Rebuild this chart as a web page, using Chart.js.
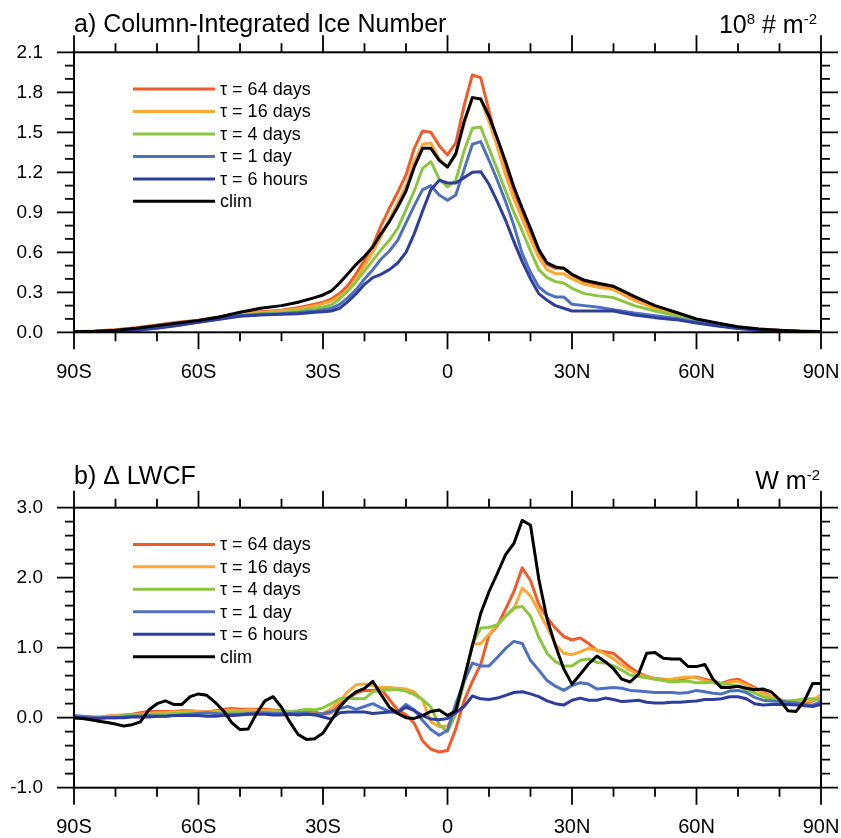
<!DOCTYPE html>
<html><head><meta charset="utf-8">
<script src="https://cdn.jsdelivr.net/npm/chart.js@4.4.1/dist/chart.umd.min.js"></script>
<style>html,body{margin:0;padding:0;background:#fff;}#wrap{position:relative;width:841px;height:838px;}canvas{position:absolute;left:0;}</style>
</head><body><div id="wrap"><canvas id="ca" width="841" height="420" style="top:0"></canvas><canvas id="cb" width="841" height="418" style="top:420px"></canvas></div>
<script>
// ---------- data ----------
const seriesLabels = ['\u03C4 = 64 days','\u03C4 = 16 days','\u03C4 = 4 days','\u03C4 = 1 day','\u03C4 = 6 hours','clim'];
const seriesColors = ['#F15A29','#FBA834','#8CC63F','#4F70BE','#2F3E9E','#000000'];

const xTicks = [-90,-60,-30,0,30,60,90];
const xTickLabels = ['90S','60S','30S','0','30N','60N','90N'];
const xMinor = [-80,-70,-50,-40,-20,-10,10,20,40,50,70,80];

const yTicksA = [0,0.3,0.6,0.9,1.2,1.5,1.8,2.1];
const yTickLabelsA = ['0.0','0.3','0.6','0.9','1.2','1.5','1.8','2.1'];
const yMinorA = [0.1,0.2,0.4,0.5,0.7,0.8,1.0,1.1,1.3,1.4,1.6,1.7,1.9,2.0];

const yTicksB = [-1,0,1,2,3];
const yTickLabelsB = ['-1.0','0.0','1.0','2.0','3.0'];
const yMinorB = [-0.8,-0.6,-0.4,-0.2,0.2,0.4,0.6,0.8,1.2,1.4,1.6,1.8,2.2,2.4,2.6,2.8];

// panel a: column-integrated ice number (10^8 # m^-2)
const latA = [-90,-85,-80,-75,-70,-65,-60,-55,-50,-45,-40,-36,-32,-30,-28,-26,-24,-22,-20,-18,-16,-14,-12,-10,-8,-6,-4,-2,0,2,4,6,8,10,12,14,16,18,20,22,24,26,28,30,33,36,40,45,50,55,60,65,70,75,80,85,90];
const a64 = [0.005,0.01,0.02,0.035,0.055,0.075,0.09,0.115,0.143,0.155,0.165,0.185,0.21,0.225,0.25,0.29,0.35,0.44,0.54,0.65,0.80,0.93,1.05,1.18,1.38,1.51,1.50,1.40,1.33,1.42,1.70,1.93,1.91,1.66,1.42,1.24,1.06,0.90,0.75,0.60,0.51,0.48,0.48,0.43,0.38,0.36,0.33,0.25,0.19,0.145,0.095,0.065,0.04,0.025,0.015,0.01,0.006];
const a16 = [0.005,0.008,0.018,0.032,0.05,0.07,0.088,0.11,0.138,0.148,0.16,0.175,0.2,0.215,0.235,0.27,0.32,0.40,0.50,0.60,0.72,0.85,0.97,1.10,1.28,1.41,1.42,1.30,1.24,1.33,1.56,1.76,1.75,1.58,1.39,1.18,1.00,0.85,0.70,0.56,0.47,0.44,0.44,0.40,0.36,0.34,0.32,0.24,0.18,0.14,0.09,0.06,0.038,0.022,0.013,0.008,0.005];
const a4 = [0.004,0.006,0.012,0.025,0.045,0.065,0.085,0.105,0.13,0.14,0.15,0.162,0.18,0.19,0.205,0.25,0.31,0.38,0.46,0.54,0.62,0.69,0.78,0.92,1.06,1.23,1.28,1.15,1.09,1.14,1.36,1.53,1.54,1.38,1.22,1.06,0.90,0.76,0.61,0.47,0.41,0.38,0.37,0.33,0.29,0.275,0.26,0.2,0.16,0.125,0.085,0.055,0.035,0.02,0.012,0.007,0.004];
const a1 = [0.003,0.004,0.008,0.018,0.035,0.055,0.078,0.1,0.125,0.135,0.14,0.148,0.16,0.17,0.18,0.21,0.26,0.32,0.40,0.47,0.55,0.61,0.69,0.82,0.95,1.07,1.10,1.03,0.99,1.03,1.22,1.41,1.43,1.29,1.14,0.98,0.80,0.59,0.45,0.34,0.29,0.265,0.265,0.21,0.2,0.19,0.17,0.145,0.125,0.105,0.075,0.05,0.03,0.017,0.01,0.006,0.004];
const a6h = [0.003,0.004,0.007,0.015,0.03,0.05,0.075,0.098,0.12,0.13,0.135,0.14,0.15,0.155,0.16,0.18,0.23,0.29,0.36,0.41,0.435,0.47,0.52,0.6,0.74,0.91,1.07,1.14,1.12,1.12,1.16,1.20,1.205,1.11,0.98,0.84,0.68,0.53,0.40,0.29,0.24,0.20,0.18,0.16,0.16,0.16,0.16,0.13,0.11,0.095,0.07,0.047,0.028,0.016,0.01,0.006,0.004];
const aClim = [0.005,0.008,0.015,0.03,0.05,0.07,0.088,0.115,0.15,0.18,0.2,0.225,0.26,0.28,0.31,0.37,0.44,0.51,0.57,0.64,0.74,0.83,0.94,1.06,1.24,1.38,1.38,1.29,1.24,1.34,1.58,1.76,1.75,1.62,1.455,1.28,1.09,0.93,0.78,0.62,0.52,0.49,0.48,0.435,0.39,0.37,0.345,0.27,0.2,0.15,0.1,0.07,0.042,0.025,0.015,0.008,0.005];

// panel b: delta LWCF (W m^-2)
const latB = [-90,-88,-86,-84,-82,-80,-78,-76,-74,-72,-70,-68,-66,-64,-62,-60,-58,-56,-54,-52,-50,-48,-46,-44,-42,-40,-38,-36,-34,-32,-30,-28,-26,-24,-22,-20,-18,-16,-14,-12,-10,-8,-6,-4,-2,0,2,4,6,8,10,12,14,16,18,20,22,24,26,28,30,32,34,36,38,40,42,44,46,48,50,52,54,56,58,60,62,64,66,68,70,72,74,76,78,80,82,84,86,88,90];
const b64 = [0.02,0.01,0.01,0.0,0.02,0.03,0.04,0.05,0.07,0.09,0.09,0.09,0.09,0.10,0.10,0.09,0.08,0.10,0.12,0.13,0.12,0.12,0.12,0.12,0.11,0.10,0.09,0.06,0.09,0.08,0.05,0.07,0.19,0.28,0.35,0.39,0.39,0.41,0.26,0.11,0.04,-0.08,-0.33,-0.45,-0.49,-0.47,-0.16,0.24,0.52,0.76,1.18,1.31,1.55,1.80,2.14,1.96,1.62,1.43,1.28,1.16,1.11,1.14,1.06,0.96,0.94,0.92,0.82,0.72,0.64,0.59,0.56,0.55,0.54,0.55,0.57,0.58,0.55,0.52,0.49,0.53,0.55,0.49,0.43,0.37,0.30,0.25,0.22,0.21,0.22,0.24,0.28];
const b16 = [0.02,0.01,0.01,0.01,0.02,0.03,0.03,0.04,0.05,0.06,0.07,0.07,0.08,0.08,0.09,0.09,0.08,0.09,0.10,0.11,0.10,0.11,0.11,0.10,0.10,0.09,0.08,0.06,0.06,0.05,0.06,0.13,0.24,0.37,0.47,0.48,0.46,0.43,0.43,0.42,0.41,0.37,0.25,-0.06,-0.13,-0.12,0.07,0.52,1.05,1.06,1.19,1.33,1.45,1.55,1.85,1.74,1.52,1.29,1.05,0.92,0.90,0.94,0.99,0.97,0.91,0.84,0.75,0.68,0.62,0.58,0.56,0.54,0.55,0.57,0.58,0.57,0.53,0.50,0.47,0.51,0.52,0.47,0.41,0.35,0.30,0.26,0.23,0.23,0.23,0.25,0.33];
const b4 = [-0.01,-0.01,0.0,0.01,0.01,0.02,0.03,0.03,0.04,0.05,0.05,0.05,0.06,0.06,0.07,0.07,0.07,0.07,0.08,0.08,0.08,0.08,0.07,0.08,0.08,0.09,0.09,0.10,0.12,0.11,0.14,0.20,0.27,0.28,0.27,0.27,0.37,0.39,0.40,0.40,0.38,0.33,0.26,0.15,-0.10,-0.20,0.05,0.50,1.05,1.28,1.29,1.33,1.45,1.57,1.59,1.45,1.15,0.92,0.80,0.74,0.74,0.82,0.84,0.79,0.78,0.74,0.68,0.61,0.59,0.57,0.55,0.53,0.51,0.52,0.52,0.50,0.50,0.51,0.49,0.47,0.45,0.40,0.35,0.30,0.27,0.25,0.24,0.25,0.27,0.27,0.25];
const b1 = [0.03,0.02,0.01,0.0,0.0,0.0,0.01,0.02,0.02,0.03,0.02,0.02,0.03,0.04,0.05,0.06,0.07,0.06,0.05,0.05,0.05,0.06,0.07,0.07,0.06,0.06,0.06,0.07,0.06,0.05,0.06,0.09,0.13,0.16,0.12,0.16,0.20,0.14,0.09,0.08,0.19,0.11,-0.04,-0.17,-0.25,-0.18,0.20,0.52,0.78,0.74,0.74,0.86,0.99,1.09,1.06,0.82,0.68,0.53,0.45,0.39,0.46,0.50,0.48,0.41,0.42,0.43,0.42,0.39,0.38,0.37,0.36,0.36,0.36,0.35,0.36,0.39,0.37,0.35,0.34,0.38,0.39,0.36,0.29,0.25,0.24,0.23,0.22,0.21,0.19,0.18,0.23];
const b6h = [0.0,0.0,-0.01,-0.01,0.0,0.0,0.0,0.01,0.01,0.01,0.02,0.02,0.03,0.03,0.03,0.03,0.02,0.02,0.03,0.03,0.04,0.05,0.05,0.05,0.04,0.04,0.05,0.04,0.05,0.04,0.01,-0.02,0.07,0.08,0.08,0.08,0.06,0.07,0.08,0.08,0.15,0.10,0.03,-0.02,-0.03,-0.01,0.07,0.16,0.31,0.27,0.26,0.28,0.32,0.36,0.37,0.34,0.30,0.24,0.20,0.18,0.25,0.28,0.25,0.25,0.28,0.26,0.23,0.24,0.25,0.22,0.21,0.21,0.22,0.22,0.23,0.24,0.26,0.26,0.27,0.30,0.30,0.27,0.20,0.18,0.19,0.19,0.19,0.18,0.17,0.16,0.19];
const bClim = [0.0,-0.01,-0.03,-0.05,-0.07,-0.09,-0.12,-0.10,-0.06,0.11,0.20,0.24,0.19,0.19,0.30,0.34,0.32,0.22,0.10,-0.07,-0.17,-0.16,0.06,0.24,0.30,0.15,-0.06,-0.24,-0.31,-0.30,-0.22,-0.04,0.15,0.28,0.37,0.42,0.52,0.33,0.15,0.06,0.00,-0.01,0.03,0.09,0.11,0.03,0.10,0.56,1.03,1.49,1.80,2.06,2.33,2.49,2.82,2.75,1.98,1.41,1.03,0.70,0.48,0.62,0.77,0.88,0.80,0.70,0.55,0.51,0.62,0.92,0.93,0.85,0.84,0.84,0.73,0.73,0.76,0.55,0.43,0.43,0.45,0.42,0.40,0.41,0.37,0.26,0.10,0.09,0.24,0.49,0.49];

// ---------- rendering ----------
const FONT = '"Liberation Sans", Arial, Helvetica, sans-serif';

function makeDatasets(lat, list) {
  return list.map((vals, k) => ({
    label: seriesLabels[k],
    data: lat.map((x, i) => ({x: x, y: vals[i]})),
    borderColor: seriesColors[k],
    backgroundColor: seriesColors[k],
    borderWidth: 3,
    pointRadius: 0,
    tension: 0,
    borderJoinStyle: 'round',
    order: list.length - k
  }));
}

function framePlugin(cfg) {
  return {
    id: 'frame',
    afterDraw(chart) {
      const ctx = chart.ctx, ca = chart.chartArea, xs = chart.scales.x, ys = chart.scales.y;
      ctx.save();
      ctx.strokeStyle = '#000';
      ctx.lineCap = 'butt';
      ctx.lineWidth = 1.8;
      ctx.beginPath();
      const MAJ = 17, MIN = 9;
      xTicks.forEach(v => { const p = xs.getPixelForValue(v);
        ctx.moveTo(p, ca.bottom); ctx.lineTo(p, ca.bottom + MAJ);
        ctx.moveTo(p, ca.top); ctx.lineTo(p, ca.top - MAJ); });
      xMinor.forEach(v => { const p = xs.getPixelForValue(v);
        ctx.moveTo(p, ca.bottom); ctx.lineTo(p, ca.bottom + MIN);
        ctx.moveTo(p, ca.top); ctx.lineTo(p, ca.top - MIN); });
      cfg.yMajor.forEach(v => { const p = ys.getPixelForValue(v);
        ctx.moveTo(ca.left, p); ctx.lineTo(ca.left - MAJ, p);
        ctx.moveTo(ca.right, p); ctx.lineTo(ca.right + MAJ, p); });
      cfg.yMinor.forEach(v => { const p = ys.getPixelForValue(v);
        ctx.moveTo(ca.left, p); ctx.lineTo(ca.left - MIN, p);
        ctx.moveTo(ca.right, p); ctx.lineTo(ca.right + MIN, p); });
      ctx.stroke();
      ctx.lineWidth = 2;
      ctx.strokeRect(ca.left, ca.top, ca.right - ca.left, ca.bottom - ca.top);

      // legend
      ctx.font = '18px ' + FONT;
      ctx.textAlign = 'left';
      ctx.textBaseline = 'middle';
      seriesLabels.forEach((lab, k) => {
        const yy = ca.top + 36.7 + k * 22.47;
        ctx.strokeStyle = seriesColors[k];
        ctx.lineWidth = 3;
        ctx.beginPath(); ctx.moveTo(ca.left + 59, yy); ctx.lineTo(ca.left + 141, yy); ctx.stroke();
        ctx.fillStyle = '#000';
        ctx.fillText(lab, ca.left + 146, yy + 1);
      });

      // title
      ctx.fillStyle = '#000';
      ctx.textBaseline = 'alphabetic';
      ctx.font = '25px ' + FONT;
      ctx.fillText(cfg.title, ca.left, cfg.titleY);

      // units, right aligned with superscripts
      const parts = cfg.units;
      let total = 0;
      parts.forEach(p => { ctx.font = (p.sup ? '15px ' : '25px ') + FONT; p.w = ctx.measureText(p.t).width; total += p.w; });
      let xx = cfg.unitsRight - total;
      parts.forEach(p => { ctx.font = (p.sup ? '15px ' : '25px ') + FONT;
        ctx.fillText(p.t, xx, cfg.titleY + (p.sup ? -9 : 0) + (cfg.unitsDy || 0)); xx += p.w; });
      ctx.restore();
    }
  };
}

function makeChart(id, lat, list, ymin, ymax, yT, yL, yMinor, top, xAxisH, title, titleY, units, unitsRight, unitsDy) {
  return new Chart(document.getElementById(id), {
    type: 'line',
    data: { datasets: makeDatasets(lat, list) },
    options: {
      responsive: false, animation: false, devicePixelRatio: 1,
      layout: { padding: { left: 0, right: 20, top: top, bottom: 0 } },
      plugins: { legend: { display: false }, tooltip: { enabled: false }, title: { display: false } },
      scales: {
        x: { type: 'linear', min: -90, max: 90,
          grid: { display: false, drawTicks: false }, border: { display: false },
          afterBuildTicks: s => { s.ticks = xTicks.map(v => ({ value: v })); },
          afterFit: s => { s.height = xAxisH; s.paddingLeft = 0; s.paddingRight = 0; },
          ticks: { autoSkip: false, maxRotation: 0, padding: 27.8, color: '#000',
            font: { family: FONT, size: 20 }, callback: (v, i) => xTickLabels[i] } },
        y: { type: 'linear', min: ymin, max: ymax,
          grid: { display: false, drawTicks: false }, border: { display: false },
          afterBuildTicks: s => { s.ticks = yT.map(v => ({ value: v })); },
          afterFit: s => { s.width = 74; s.paddingTop = 0; s.paddingBottom = 0; },
          ticks: { autoSkip: false, padding: 31, color: '#000',
            font: { family: FONT, size: 19 }, callback: (v, i) => yL[i] } }
      }
    },
    plugins: [framePlugin({ yMajor: yT, yMinor: yMinor, title: title, titleY: titleY, units: units, unitsRight: unitsRight, unitsDy: unitsDy })]
  });
}

makeChart('ca', latA, [a64, a16, a4, a1, a6h, aClim], 0, 2.1, yTicksA, yTickLabelsA, yMinorA,
  52.3, 87.7, 'a) Column-Integrated Ice Number', 31.7,
  [{t:'10',sup:false},{t:'8',sup:true},{t:' # m',sup:false},{t:'-2',sup:true}], 817, 1.6);
makeChart('cb', latB, [b64, b16, b4, b1, b6h, bClim], -1, 3, yTicksB, yTickLabelsB, yMinorB,
  87.7, 50.3, 'b) \u0394 LWCF', 64.3,
  [{t:'W m',sup:false},{t:'-2',sup:true}], 820, 5);
</script></body></html>
